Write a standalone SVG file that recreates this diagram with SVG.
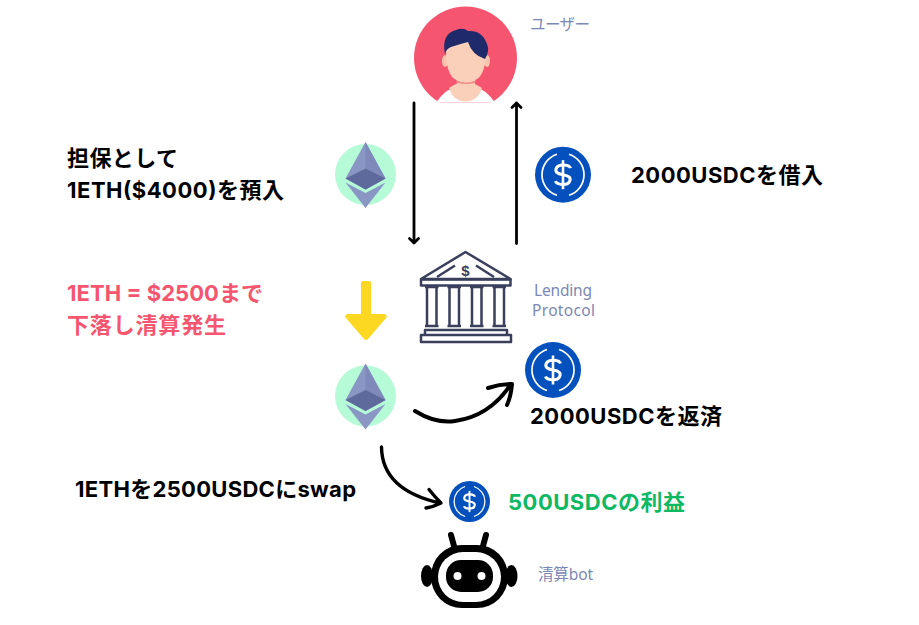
<svg xmlns="http://www.w3.org/2000/svg" width="919" height="625" viewBox="0 0 919 625">
<style>
.b{font-family:"Inter","Noto Sans CJK JP",sans-serif;font-weight:700;font-size:22px;fill:#000}
.l{font-family:"Noto Sans","Noto Sans CJK JP",sans-serif;font-size:15.500px;fill:#7c88b4}
.line{fill:none;stroke:#000;stroke-linecap:round;stroke-linejoin:round}
.bk{fill:none;stroke:#3a3f5c;stroke-width:2.500;stroke-linejoin:round}
</style>
<defs>
<symbol id="eth" overflow="visible">
<circle cx="0" cy="0" r="30.500" fill="#b5fbd8"/>
<path d="M0-32.500L-20 4L0 15L20 4Z" fill="#8a96c4"/>
<path d="M0-32.500L0 15L20 4Z" fill="#7f8abb"/>
<path d="M0-6L-20 4L0 15L20 4Z" fill="#5e6a9c"/>
<path d="M-20 8L0 33.500L20 8L0 18.500Z" fill="#8a96c4"/>
</symbol>
<symbol id="usdc" overflow="visible" viewBox="-28 -28 56 56">
<circle r="28" fill="#0451bd"/>
<path d="M-6-20.500A21.500 21.500 0 0 0-6 20.500M6-20.500A21.500 21.500 0 0 1 6 20.500" fill="none" stroke="#fff" stroke-width="1.700"/>
<path d="M7.500-6.500C6.500-10-4-11.500-6.500-7C-8.500-3-6-1 0 0C6 1 8.500 3 6.500 7C4 11.500-6.500 10-7.500 6.500" fill="none" stroke="#fff" stroke-width="3"/>
<path d="M0-14.500V14.500" stroke="#fff" stroke-width="2.600"/>
</symbol>
<clipPath id="pc"><rect x="400" y="0" width="140" height="102.500"/></clipPath>
</defs>
<rect width="919" height="625" fill="#fff"/>

<g id="user" clip-path="url(#pc)">
<circle cx="465.500" cy="58" r="51.500" fill="#f5556f"/>
<path d="M434 106Q444 89 458 86L473 86Q487 89 497 106Z" fill="#fff"/>
<path d="M449 88Q465 76 482 88Q478 101 465.500 101.500Q453 101 449 88Z" fill="#fbd0bb"/>
<rect x="457" y="74" width="18" height="15" fill="#fbd0bb"/>
<path d="M456 80Q466 85 476 80L475 83Q466 85 457 83Z" fill="#ee8f8a"/>
<ellipse cx="445" cy="61" rx="3" ry="6" fill="#f7c4ae"/>
<ellipse cx="487" cy="61" rx="3" ry="6" fill="#f7c4ae"/>
<path d="M446 50Q446 81 461 81L470 81Q486 81 486 50Q486 36 466 36Q446 36 446 50Z" fill="#fbd0bb"/>
<path d="M445 54Q441 34 456 30Q463 27 468 31Q482 30 487 44Q490 51 485 59Q472 55 468 42Q460 44 451 47Q446 49 445 54Z" fill="#1f2a6b"/>
</g>
<text id="user-label" class="l" x="530" y="30" textLength="60">ユーザー</text>

<g id="connectors">
<path class="line" stroke-width="2.800" d="M414 103V243M409.500 238.500L414 243L418.500 238.500"/>
<path class="line" stroke-width="2.800" d="M516.500 243.500V103M512 107.500L516.500 103L521 107.500"/>
<path class="line" stroke-width="4" d="M415 411Q436 424 455 421Q490 416 511 384M488 388Q500 384 512 384Q511 396 507 405"/>
<path class="line" stroke-width="3.400" d="M381.500 447Q382 490 440 503M429 489.500Q435 497 441 503Q433 507 426 508"/>
</g>

<g id="eth-collateral"><use href="#eth" x="365.500" y="174.500"/></g>
<g id="usdc-borrow"><use href="#usdc" x="535" y="146.700" width="56" height="56"/></g>
<g id="eth-liquidated"><use href="#eth" x="365.500" y="396"/></g>
<g id="usdc-repay"><use href="#usdc" x="525" y="342" width="56" height="56"/></g>
<g id="usdc-profit"><use href="#usdc" x="449" y="481" width="41" height="41"/></g>

<g id="price-drop-arrow">
<path d="M361 283Q361 281 363 281H369Q371 281 371 283V314H385Q388 316 386 318L368 339Q366 341 364 339L346 318Q344 316 347 314H361Z" fill="#fdd823"/>
</g>

<g id="bank">
<path class="bk" d="M421 279L465.500 252L510.500 279Z"/>
<path class="bk" d="M437 277L455 265.500M476 265.500L494 277"/>
<rect class="bk" x="421" y="279.500" width="89.500" height="6"/>
<path class="bk" d="M425 287H438.500M427 287V325M436.500 287V325M425 326H438.500M447.500 287H461M449.500 287V325M459 287V325M447.500 326H461M470 287H483.500M472 287V325M481.500 287V325M470 326H483.500M492.500 287H506M494.500 287V325M504 287V325M492.500 326H506"/>
<path class="bk" d="M425 335V330H507V335"/>
<rect class="bk" x="421" y="335" width="90" height="7"/>
<text x="465.500" y="275.500" text-anchor="middle" style="font-family:'Liberation Sans',sans-serif;font-size:15px;font-weight:700;fill:#3a3f5c">$</text>
</g>
<text class="l" x="563" y="295.500" text-anchor="middle" textLength="58">Lending</text>
<text class="l" x="563.500" y="316" text-anchor="middle" textLength="63">Protocol</text>

<g id="bot">
<path d="M454 546L451 535M483 546L486 535" stroke="#000" stroke-width="6" stroke-linecap="round"/>
<ellipse cx="427" cy="576" rx="6" ry="11" fill="#000"/>
<ellipse cx="511.500" cy="576" rx="6" ry="11" fill="#000"/>
<rect x="431" y="545" width="77" height="63" rx="31" fill="#000"/>
<rect x="438" y="552" width="63" height="50" rx="25" fill="#fff"/>
<rect x="446" y="560" width="47" height="32" rx="15" fill="#000"/>
<circle cx="457.500" cy="576" r="4" fill="#fff"/>
<circle cx="481.500" cy="576" r="4" fill="#fff"/>
</g>
<text class="l" x="538" y="580" textLength="55">清算bot</text>

<g id="labels">
<text class="b" x="67" y="166" textLength="111">担保として</text>
<text class="b" x="67" y="198" textLength="217">1ETH($4000)を預入</text>
<text class="b" x="631" y="183" textLength="192">2000USDCを借入</text>
<text class="b" x="67" y="301" textLength="196" style="fill:#f5556f">1ETH = $2500まで</text>
<text class="b" x="67" y="333" textLength="159" style="fill:#f5556f">下落し清算発生</text>
<text class="b" x="530" y="424" textLength="192">2000USDCを返済</text>
<text class="b" x="75" y="497" textLength="281">1ETHを2500USDCにswap</text>
<text class="b" x="508" y="510" textLength="177" style="fill:#0fb862">500USDCの利益</text>
</g>
</svg>
